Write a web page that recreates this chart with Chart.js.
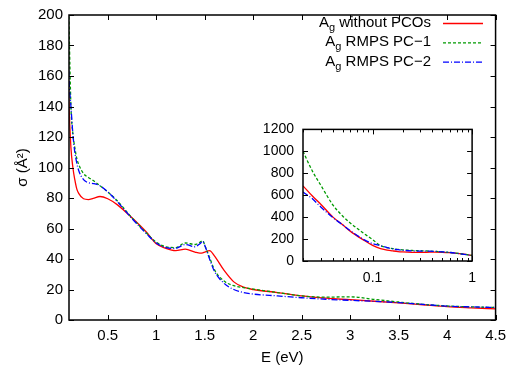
<!DOCTYPE html>
<html>
<head>
<meta charset="utf-8">
<script src="https://cdn.jsdelivr.net/npm/chart.js@4.4.1/dist/chart.umd.min.js"></script>
<style>
  body { margin: 0; background: #fff; }
  #wrap { position: relative; width: 513px; height: 369px; }
  #mainChart { position: absolute; left: 0; top: 0; }
  #insetChart { position: absolute; left: 250px; top: 112px; }
</style>
</head>
<body>
<div id="wrap">
  <canvas id="mainChart" width="513" height="369"></canvas>
  <canvas id="insetChart" width="235" height="173"></canvas>
</div>
<script>
// Energías (eV) y secciones eficaces (Å²)
const energy = [0.02, 0.025, 0.03, 0.04, 0.05, 0.06, 0.08, 0.1, 0.12, 0.14, 0.16, 0.18, 0.2, 0.25, 0.3, 0.35,
  0.42, 0.5, 0.6, 0.75, 0.9, 1.0, 1.1, 1.2, 1.3, 1.4, 1.45, 1.48, 1.5, 1.55, 1.6, 1.7, 1.8, 1.9, 2.0,
  2.25, 2.5, 2.75, 3.0, 3.25, 3.5, 3.75, 4.0, 4.25, 4.5];

const withoutPCOs = [685, 590, 520, 400, 330, 270, 195, 142, 113, 100, 92, 86, 83, 79.5, 79, 79.8,
  81, 79.5, 75.5, 67, 57.5, 50, 47, 45.5, 46.5, 44.5, 43.8, 44, 44.5, 45.5, 42, 32.5, 25, 21.5, 20,
  18, 15.8, 14.3, 13.3, 12.3, 11.2, 10, 8.8, 8, 7.3];

const rmpsPC1 = [1000, 815, 695, 510, 410, 345, 258, 195, 140, 122, 113, 106, 102, 96, 93.5, 91.5,
  88, 84, 78, 67, 57, 51, 48, 47.5, 50.5, 49.5, 51, 52, 49, 41, 33, 25.5, 22.5, 21.3, 20.3,
  18, 15.8, 15, 15.2, 13.5, 11.8, 10.3, 9.2, 8.6, 8.2];

const rmpsPC2 = [630, 565, 495, 395, 330, 275, 200, 158, 140, 122, 110, 103, 98, 92, 90, 89.5,
  88, 84, 77.5, 66.5, 56.5, 50.5, 47.5, 47, 49.5, 48, 50, 51.5, 49, 40, 32, 24, 20, 18, 17,
  15.8, 14.6, 13.6, 12.9, 12.2, 11.4, 10.2, 9.1, 8.6, 8.2];

const legendLabels = ['without PCOs', 'RMPS PC\u22121', 'RMPS PC\u22122'];

const mainXTicks = [0.5, 1, 1.5, 2, 2.5, 3, 3.5, 4, 4.5];
const mainYTicks = [0, 20, 40, 60, 80, 100, 120, 140, 160, 180, 200];
const insetYTicks = [0, 200, 400, 600, 800, 1000, 1200];
const insetXLabels = [0.1, 1];

const FONT = '"Liberation Sans", Arial, Helvetica, sans-serif';
Chart.defaults.font.family = FONT;
Chart.defaults.color = '#000';

const seriesStyle = [
  { color: '#ff0000', dash: [] },
  { color: '#009a00', dash: [3, 2] },
  { color: '#0000ff', dash: [6, 2, 1, 2] }
];

function toPoints(ys) {
  return energy.map((e, i) => ({ x: e, y: ys[i] }));
}

function makeDatasets() {
  return [withoutPCOs, rmpsPC1, rmpsPC2].map((ys, i) => ({
    label: legendLabels[i],
    data: toPoints(ys),
    borderColor: seriesStyle[i].color,
    borderDash: seriesStyle[i].dash,
    borderWidth: 1.3,
    pointRadius: 0,
    fill: false,
    cubicInterpolationMode: 'monotone',
    order: 3 - i
  }));
}

// Marco y marcas hacia dentro (estilo gnuplot)
const frameTicks = {
  id: 'frameTicks',
  afterDatasetsDraw(chart, args, opts) {
    const { ctx, chartArea: a, scales: { x, y } } = chart;
    ctx.save();
    ctx.strokeStyle = '#000';
    ctx.lineWidth = 1;
    ctx.beginPath();
    x.ticks.forEach(t => {
      const px = Math.round(x.getPixelForValue(t.value)) + 0.5;
      const len = t.major ? opts.major : opts.minor;
      ctx.moveTo(px, a.bottom); ctx.lineTo(px, a.bottom - len);
      ctx.moveTo(px, a.top); ctx.lineTo(px, a.top + len);
    });
    y.ticks.forEach(t => {
      const py = Math.round(y.getPixelForValue(t.value)) + 0.5;
      ctx.moveTo(a.left, py); ctx.lineTo(a.left + opts.major, py);
      ctx.moveTo(a.right, py); ctx.lineTo(a.right - opts.major, py);
    });
    ctx.stroke();
    ctx.lineWidth = 1.5;
    ctx.strokeRect(a.left, a.top, a.right - a.left, a.bottom - a.top);
    ctx.restore();
  }
};

// Leyenda con subíndice "g"
const subLegend = {
  id: 'subLegend',
  afterDraw(chart) {
    const ctx = chart.ctx;
    const rightText = 431, lineX0 = 443, lineX1 = 483;
    ctx.save();
    legendLabels.forEach((lab, i) => {
      const yc = 23 + i * 19.3;
      const rest = ' ' + lab;
      ctx.font = '15px ' + FONT;
      const wA = ctx.measureText('A').width;
      const wRest = ctx.measureText(rest).width;
      ctx.font = '11px ' + FONT;
      const wg = ctx.measureText('g').width;
      let x0 = rightText - (wA + wg + wRest);
      ctx.fillStyle = '#000';
      ctx.textBaseline = 'middle';
      ctx.textAlign = 'left';
      ctx.font = '15px ' + FONT;
      ctx.fillText('A', x0, yc);
      ctx.font = '11px ' + FONT;
      ctx.fillText('g', x0 + wA, yc + 5);
      ctx.font = '15px ' + FONT;
      ctx.fillText(rest, x0 + wA + wg, yc);
      ctx.strokeStyle = seriesStyle[i].color;
      ctx.setLineDash(seriesStyle[i].dash);
      ctx.lineWidth = 1.3;
      ctx.beginPath();
      ctx.moveTo(lineX0, yc + 0.5);
      ctx.lineTo(lineX1, yc + 0.5);
      ctx.stroke();
      ctx.setLineDash([]);
    });
    ctx.restore();
  }
};

new Chart(document.getElementById('mainChart'), {
  type: 'line',
  data: { datasets: makeDatasets() },
  options: {
    responsive: false,
    animation: false,
    devicePixelRatio: 1,
    layout: { padding: { top: 9, right: 12, left: 0, bottom: 0 } },
    plugins: {
      legend: { display: false },
      tooltip: { enabled: false },
      frameTicks: { major: 5, minor: 3 }
    },
    scales: {
      x: {
        type: 'linear',
        min: 0.1,
        max: 4.5,
        grid: { display: false, drawTicks: false },
        border: { display: false },
        afterBuildTicks: s => { s.ticks = mainXTicks.map(v => ({ value: v, major: true })); },
        afterFit: s => { s.height = 49; },
        ticks: {
          font: { size: 15 },
          padding: 7,
          maxRotation: 0,
          autoSkip: false,
          callback: v => String(v)
        },
        title: {
          display: true,
          text: 'E (eV)',
          font: { size: 15 },
          padding: { top: 0, bottom: 2 }
        }
      },
      y: {
        min: 0,
        max: 200,
        grid: { display: false, drawTicks: false },
        border: { display: false },
        afterBuildTicks: s => { s.ticks = mainYTicks.map(v => ({ value: v, major: true })); },
        afterFit: s => { s.width = 69; },
        ticks: { font: { size: 15 }, padding: 6, callback: v => String(v) },
        title: {
          display: true,
          text: 'σ (Å²)',
          font: { size: 15 },
          padding: { top: 14, bottom: 0 }
        }
      }
    }
  },
  plugins: [frameTicks, subLegend]
});

const insetXTicks = [];
[0.01, 0.1].forEach(d => {
  for (let k = 1; k <= 9; k++) {
    const v = +(d * k).toFixed(3);
    if (v >= 0.02) insetXTicks.push(v);
  }
});
insetXTicks.push(1);

new Chart(document.getElementById('insetChart'), {
  type: 'line',
  data: { datasets: makeDatasets() },
  options: {
    responsive: false,
    animation: false,
    devicePixelRatio: 1,
    layout: { padding: { top: 10, right: 10, left: 0, bottom: 0 } },
    plugins: {
      legend: { display: false },
      tooltip: { enabled: false },
      frameTicks: { major: 5, minor: 3 }
    },
    scales: {
      x: {
        type: 'logarithmic',
        min: 0.02,
        max: 1,
        grid: { display: false, drawTicks: false },
        border: { display: false },
        afterBuildTicks: s => {
          s.ticks = insetXTicks.map(v => ({ value: v, major: insetXLabels.includes(v) }));
        },
        afterFit: s => { s.height = 24; },
        ticks: {
          font: { size: 14 },
          padding: 9,
          maxRotation: 0,
          autoSkip: false,
          callback: v => (insetXLabels.includes(v) ? String(v) : '')
        }
      },
      y: {
        min: 0,
        max: 1200,
        grid: { display: false, drawTicks: false },
        border: { display: false },
        afterBuildTicks: s => { s.ticks = insetYTicks.map(v => ({ value: v, major: true })); },
        afterFit: s => { s.width = 53; },
        ticks: { font: { size: 14 }, padding: 9, callback: v => String(v) }
      }
    }
  },
  plugins: [frameTicks]
});
</script>
</body>
</html>
